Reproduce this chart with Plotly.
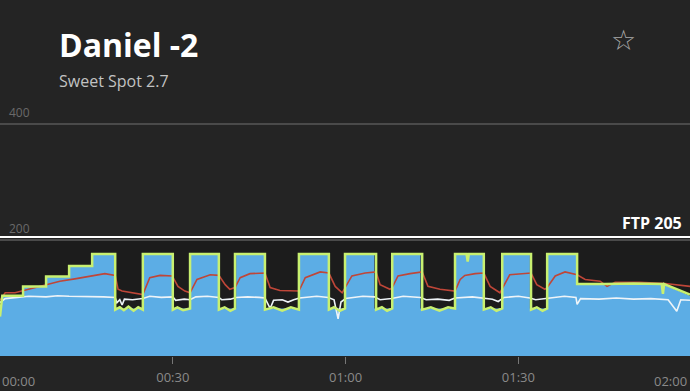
import plotly.graph_objects as go

# ---------------- data (minutes / chart units) ----------------
target_min = [0, 0.4, 4, 4, 8, 8, 12, 12, 16, 16, 20, 20, 25, 25, 30, 30, 33, 33, 38, 38,
              41, 41, 46, 46, 52, 52, 57, 57, 60, 60, 65, 65, 68, 68, 73, 73, 79, 79,
              84, 84, 87, 87, 92, 92, 95, 95, 100.2, 100.2, 115.3, 119.8]
target_watts = [68, 102, 102, 119, 119, 136, 136, 154, 154, 174, 174, 82, 82, 174, 174, 82,
                82, 174, 174, 82, 82, 174, 174, 82, 82, 174, 174, 82, 82, 174, 174, 82,
                82, 174, 174, 82, 82, 174, 174, 82, 82, 174, 174, 82, 82, 174, 174, 123,
                123, 104]

power_min = [0, 0.4, 4, 4, 8, 8, 12, 12, 16, 16, 20, 20, 20.8, 21.5, 22.3, 23.2, 24, 24.8,
             24.8, 30, 30, 30.8, 31.8, 33, 33, 38, 38, 39, 40, 40.8, 40.8, 46, 46, 47.5,
             49, 50.5, 51.9, 51.9, 57.1, 57.1, 58, 59, 59.9, 59.9, 65.3, 65.3, 66.3, 67.2,
             68.1, 68.1, 73.3, 73.3, 74.8, 76.3, 77.8, 79, 79, 81, 81.2, 81.4, 84, 84,
             85.2, 86.2, 87.2, 87.2, 92.2, 92.2, 93.2, 94.2, 95, 95, 100.2, 100.2, 105,
             110, 114.9, 115.1, 115.3, 115.3, 119.8]
power_watts = [68, 104, 104, 120, 120, 137, 137, 155, 155, 176, 176, 80, 84, 79, 85, 78, 84, 80,
               176, 176, 80, 84, 79, 82, 176, 176, 80, 84, 78, 82, 176, 176, 80, 84,
               78, 84, 80, 176, 176, 80, 84, 78, 82, 176, 176, 80, 84, 78,
               82, 176, 176, 80, 84, 78, 84, 82, 176, 176, 163, 176, 176, 80,
               84, 78, 82, 176, 176, 80, 84, 78, 82, 176, 176, 124, 124,
               125, 124, 107, 124, 124, 106]

hr_min = [0, 0.9, 2.6, 3.8, 5.2, 7.8, 10.4, 13.0, 16.0, 18.2, 20.0, 20.5, 21.2, 23.4, 24.8,
          26.0, 27.8, 29.9, 30.9, 32.1, 33.0, 34.2, 36.5, 38.0, 39.1, 39.9, 40.8, 41.7,
          43.4, 46.0, 46.9, 48.6, 51.9, 53.0, 55.6, 57.1, 58.2, 59.4, 59.9, 61.1, 63.4,
          65.3, 66.0, 67.7, 68.1, 69.1, 71.2, 73.3, 74.3, 76.4, 79.0, 79.9, 80.7, 82.5,
          84.0, 85.1, 86.8, 88.5, 92.2, 93.2, 94.6, 95.0, 96.4, 98.1, 100.2, 101.6,
          104.2, 105.4, 106.8, 111.1, 115.5, 119.8]
hr_value = [96, 109, 109, 112, 116, 123, 129, 133, 138, 142, 139, 115, 112, 109, 106,
            135, 139, 138, 120, 112, 109, 132, 140, 139, 123, 115, 118, 135,
            142, 143, 118, 113, 112, 135, 145, 143, 120, 109, 118, 138, 143,
            145, 123, 115, 118, 138, 142, 145, 120, 115, 112, 132, 139, 142,
            143, 120, 109, 140, 143, 123, 115, 118, 138, 145, 140, 132,
            129, 120, 127, 127, 125, 120]

cad_min = [0, 0.9, 3, 5, 8, 10, 12, 15, 18, 20, 20.3, 20.8, 21.2, 21.6, 23, 24.8, 26, 28,
           30, 30.5, 32, 33, 34, 36, 38, 38.5, 40, 41, 43, 45, 46, 46.9, 47.5, 49, 50, 51,
           52, 55, 57, 58, 58.7, 59.2, 60, 63, 65, 66, 68, 70, 73, 74, 76, 78, 79, 82,
           84, 85.5, 86.5, 87.5, 90, 92, 93, 95, 98, 100, 100.2, 100.8, 104, 107, 110,
           113, 116, 117.5, 118.2, 119.8]
cad_value = [92, 99, 101, 103, 102, 104, 103, 103, 102, 101, 92, 97, 88, 98, 97, 99, 103, 101,
             102, 96, 98, 97, 102, 103, 101, 97, 98, 101, 102, 101, 100, 82, 96, 97, 93, 97,
             100, 103, 101, 97, 64, 93, 99, 103, 102, 97, 99, 103, 101, 97, 98, 96, 100, 102,
             100, 98, 94, 101, 103, 100, 97, 99, 103, 101, 89, 99, 98, 100, 98,
             99, 97, 77, 97, 96]

y_ticks = [200, 400]
y_tick_text = ["200", "400"]
x_ticks = [30, 60, 90]
x_tick_text = ["00:30", "01:00", "01:30"]
edge_labels = ["00:00", "02:00"]
ftp = 205

BG = "#242424"

fig = go.Figure()
fig.add_trace(go.Scatter(x=target_min, y=target_watts, mode="lines", fill="tozeroy",
                         line=dict(width=0, color="#5cade5"), fillcolor="#5cade5",
                         hoverinfo="skip", showlegend=False))
fig.add_trace(go.Scatter(x=hr_min, y=hr_value, mode="lines",
                         line=dict(width=1.6, color="#bf4638"), showlegend=False))
fig.add_trace(go.Scatter(x=cad_min, y=cad_value, mode="lines",
                         line=dict(width=1.6, color="#eef4f8"), showlegend=False))
fig.add_trace(go.Scatter(x=power_min, y=power_watts, mode="lines",
                         line=dict(width=2.5, color="#c8f070"), showlegend=False))

# darker band below the 200 line
fig.add_shape(type="rect", xref="paper", x0=0, x1=1, yref="y", y0=0, y1=200,
              fillcolor="#1c1c1c", line_width=0, layer="below")
# FTP line
fig.add_shape(type="line", xref="paper", x0=0, x1=1, yref="y", y0=ftp, y1=ftp,
              line=dict(color="#ffffff", width=2))

fig.add_annotation(text="<b>Daniel -2</b>", xref="paper", yref="paper", x=0.082, y=0.874,
                   xanchor="left", yanchor="middle", showarrow=False,
                   font=dict(family="Open Sans", size=32, color="#ffffff"))
fig.add_annotation(text="Sweet Spot 2.7", xref="paper", yref="paper", x=0.082, y=0.772,
                   xanchor="left", yanchor="middle", showarrow=False,
                   font=dict(family="Open Sans", size=16, color="#c2c2c2"))
fig.add_annotation(text="☆", xref="paper", yref="paper", x=0.903, y=0.885,
                   xanchor="center", yanchor="middle", showarrow=False,
                   font=dict(family="DejaVu Sans", size=28, color="#a8a8a8"))
fig.add_annotation(text=f"<b>FTP {ftp}</b>", xref="paper", yref="y", x=0.992, y=ftp,
                   xanchor="right", yanchor="bottom", yshift=1, showarrow=False,
                   font=dict(family="Open Sans", size=16, color="#ffffff"))
fig.add_annotation(text=edge_labels[0], xref="paper", yref="paper", x=0.0, y=-0.07,
                   xanchor="left", yanchor="middle", showarrow=False,
                   font=dict(family="Open Sans", size=13, color="#8a8a8a"))
fig.add_annotation(text=edge_labels[1], xref="paper", yref="paper", x=0.999, y=-0.07,
                   xanchor="right", yanchor="middle", showarrow=False,
                   font=dict(family="Open Sans", size=13, color="#8a8a8a"))

fig.update_layout(
    width=690, height=391,
    margin=dict(l=0, r=0, t=0, b=35),
    paper_bgcolor=BG, plot_bgcolor=BG,
    xaxis=dict(range=[0, 119.8], tickvals=x_ticks, ticktext=x_tick_text,
               showgrid=False, zeroline=False, showline=False,
               ticks="outside", ticklen=7, tickwidth=1, tickcolor="#777777",
               ticklabelstandoff=2,
               tickfont=dict(family="Open Sans", size=13, color="#8a8a8a"),
               fixedrange=True),
    yaxis=dict(range=[0, 613.8], tickvals=y_ticks, ticktext=y_tick_text,
               showgrid=True, gridcolor="#4a4a4a", gridwidth=2,
               zeroline=False, showline=False,
               ticklabelposition="inside top", ticklabelstandoff=6,
               ticklabelshift=-3,
               tickfont=dict(family="Open Sans", size=12, color="#6a6a6a"),
               fixedrange=True),
)

fig.write_html("out.html", config={"displayModeBar": False},
               post_script="document.body.style.margin='0';document.body.style.overflow='hidden';")
